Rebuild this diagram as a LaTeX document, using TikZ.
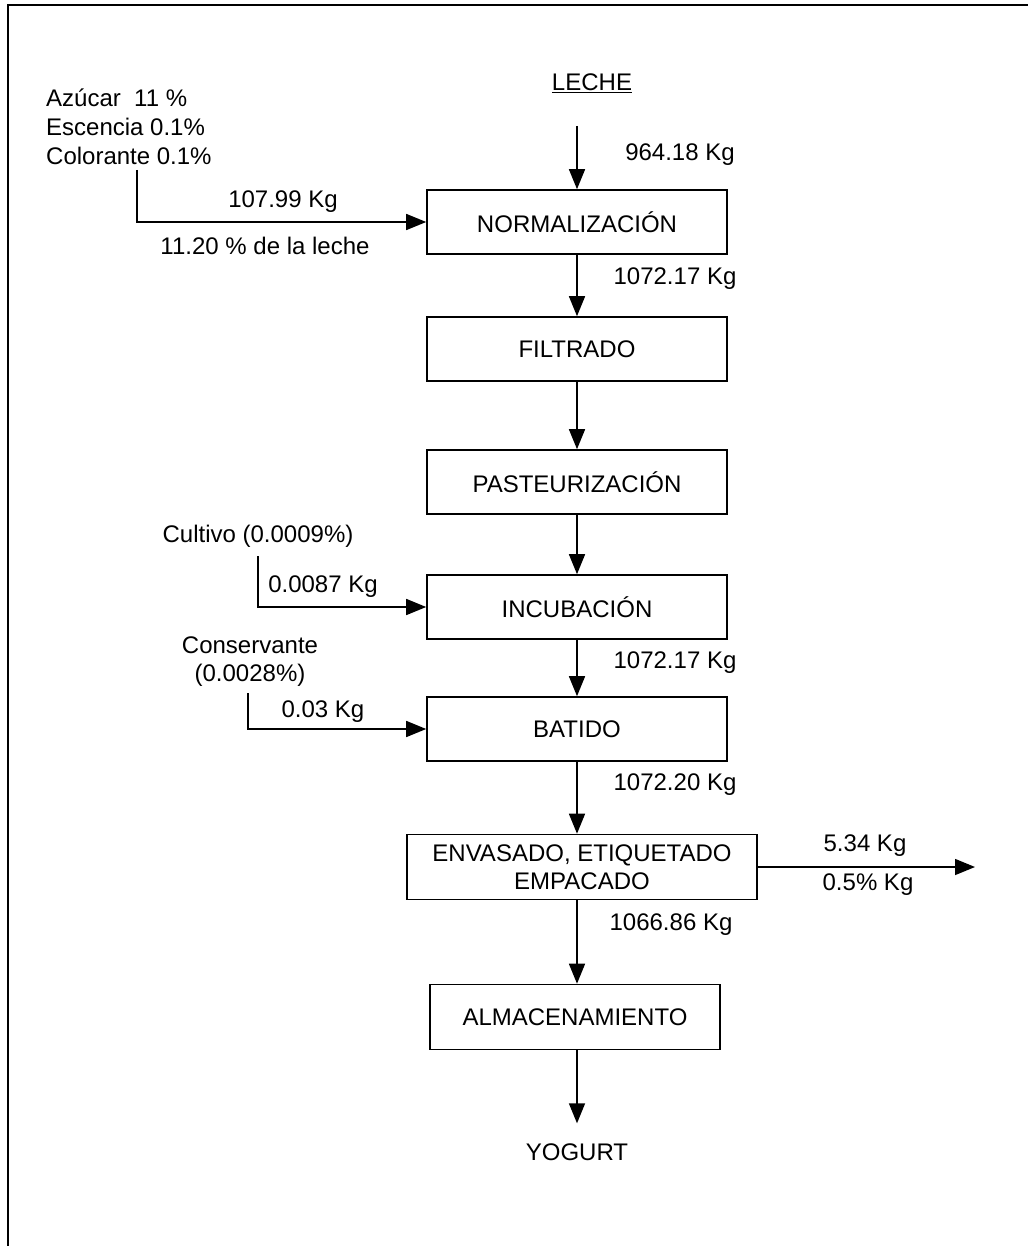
\documentclass[tikz,border=0pt]{standalone}
\usepackage{fontspec}
\setmainfont{Liberation Sans}
\usetikzlibrary{arrows.meta}
\begin{document}
\begin{tikzpicture}[x=1pt,y=-1pt,
  every node/.style={font=\fontsize{24}{29}\selectfont, inner sep=2pt},
  procbox/.style={draw, line width=1.6pt, minimum width=300pt, minimum height=64pt, align=center},
  arr/.style={line width=1.5pt, -{Triangle[length=20pt,width=16pt]}}]
\useasboundingbox (0,0) rectangle (1028,1246);
% frame
\draw[line width=1.8pt] (8,1246) -- (8,5) -- (1028,5);
% process boxes
\node[procbox] (norm) at (577,222) {NORMALIZACIÓN};
\node[procbox] (filt) at (577,349) {FILTRADO};
\node[procbox] (past) at (577,482) {PASTEURIZACIÓN};
\node[procbox] (incu) at (577,607) {INCUBACIÓN};
\node[procbox] (bati) at (577,729) {BATIDO};
\node[procbox, minimum width=350pt, minimum height=65pt, font=\fontsize{24}{28}\selectfont] (env) at (582,867) {ENVASADO, ETIQUETADO\\EMPACADO};
\node[procbox, minimum width=290pt, minimum height=65pt] (alm) at (575,1017) {ALMACENAMIENTO};
% texts
\node (leche) at (592,83) {\underline{LECHE}};
\node (yog) at (577,1152) {YOGURT};
\node[anchor=west, align=left, font=\fontsize{24}{29}\selectfont] (adit) at (44,127) {Azúcar\ \ 11 \%\\Escencia 0.1\%\\Colorante 0.1\%};
\node (cult) at (258,536) {Cultivo (0.0009\%)};
\node[align=center, font=\fontsize{24}{28}\selectfont] (cons) at (250,662) {Conservante\\(0.0028\%)};
% labels
\node (l1) at (680,155) {964.18 Kg};
\node (l2) at (675,279) {1072.17 Kg};
\node (l3) at (283,202) {107.99 Kg};
\node (l4) at (265,246) {11.20 \% de la leche};
\node (l5) at (323,587) {0.0087 Kg};
\node (l6) at (675,663) {1072.17 Kg};
\node (l7) at (323,712) {0.03 Kg};
\node (l8) at (675,785) {1072.20 Kg};
\node (l9) at (865,846) {5.34 Kg};
\node (l10) at (868,885) {0.5\% Kg};
\node (l11) at (671,925) {1066.86 Kg};
% free ends
\coordinate (lecheout) at (577,126);
\coordinate (adittop) at (137,170);
\coordinate (culttop) at (258,556);
\coordinate (constop) at (248,693);
\coordinate (wasteend) at (975,867);
% connectors
\draw[arr] (lecheout) -- (norm.north);
\draw[arr] (norm.south) -- (filt.north);
\draw[arr] (filt.south) -- (past.north);
\draw[arr] (past.south) -- (incu.north);
\draw[arr] (incu.south) -- (bati.north);
\draw[arr] (bati.south) -- (bati.south |- env.north);
\draw[arr] (bati.south |- env.south) -- (bati.south |- alm.north);
\draw[arr] (alm.south -| bati.south) -- ([yshift=18pt]yog.north);
\draw[arr] (env.east) -- (wasteend);
\draw[arr] (adittop) |- (norm.west);
\draw[arr] (culttop) |- (incu.west);
\draw[arr] (constop) |- (bati.west);
\end{tikzpicture}
\end{document}
